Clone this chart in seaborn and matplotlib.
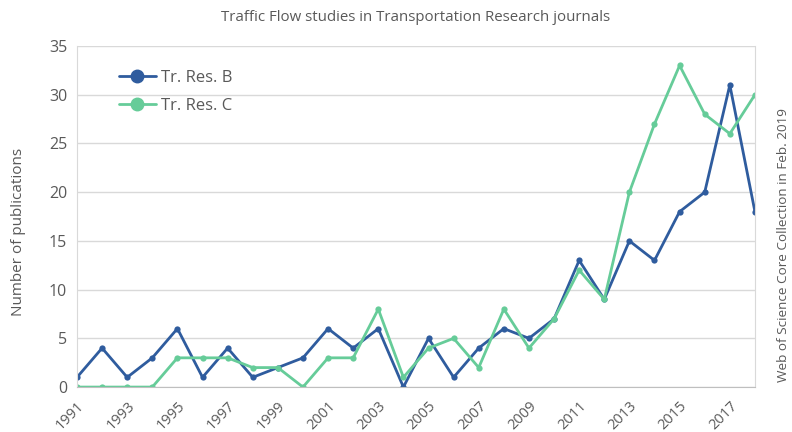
import pandas as pd
import numpy as np
import matplotlib
matplotlib.use("Agg")
import matplotlib.pyplot as plt
import seaborn as sns

# Publications per year
years = list(range(1991, 2019))
trResB = [1, 4, 1, 3, 6, 1, 4, 1, 2, 3, 6, 4, 6, 0, 5, 1, 4, 6, 5, 7,
          13, 9, 15, 13, 18, 20, 31, 18]
trResC = [0, 0, 0, 0, 3, 3, 3, 2, 2, 0, 3, 3, 8, 1, 4, 5, 2, 8, 4, 7,
          12, 9, 20, 27, 33, 28, 26, 30]
seriesNames = ['Tr. Res. B', 'Tr. Res. C']
seriesColors = ['#2F5C9E', '#66CC99']

sns.set_style("white")
plt.rcParams['font.family'] = ['Open Sans', 'DejaVu Sans']
textColor = '#595959'

df = pd.DataFrame({
    'Year': years * 2,
    'Count': trResB + trResC,
    'Journal': [seriesNames[0]] * len(years) + [seriesNames[1]] * len(years),
})

fig = plt.figure(figsize=(7.92, 4.32), dpi=100)
ax = fig.add_axes([0.0972, 0.104, 0.856, 0.7895])

sns.lineplot(data=df, x='Year', y='Count', hue='Journal', palette=seriesColors,
             marker='o', markersize=4.5, markeredgewidth=0, linewidth=2,
             ax=ax, legend=False)

ax.set_xlim(1991, 2018)
ax.set_ylim(0, 35)
ax.set_yticks(np.arange(0, 36, 5))
ax.set_xticks(years)
ax.set_xticklabels([str(y) if y % 2 == 1 else '' for y in years],
                   rotation=45, ha='right', rotation_mode='anchor')
ax.tick_params(axis='x', length=5, color='#BFBFBF', colors=textColor,
               labelsize=10.5, pad=3)
ax.tick_params(axis='y', length=5, color='#D9D9D9', colors=textColor,
               labelsize=11.5, pad=2)
ax.yaxis.grid(True, color='#D9D9D9', linewidth=1)
ax.set_axisbelow(True)
for side in ['left', 'right', 'top']:
    ax.spines[side].set_color('#D9D9D9')
ax.spines['top'].set_visible(False)
ax.spines['bottom'].set_color('#BFBFBF')

ax.set_xlabel('')
ax.set_ylabel('Number of publications', color=textColor, fontsize=11)
ax.yaxis.set_label_coords(-0.075, 0.455)
ax.set_title('Traffic Flow studies in Transportation Research journals',
             color=textColor, fontsize=10.8, pad=18)

handles = [plt.Line2D([], [], color=c, marker='o', markersize=9, linewidth=2)
           for c in seriesColors]
ax.legend(handles, seriesNames, loc='upper left', bbox_to_anchor=(0.04, 0.975),
          frameon=False, fontsize=12, labelcolor=textColor, handlelength=2.2,
          handletextpad=0.3, labelspacing=0.75)

fig.text(0.998, 0.433, 'Web of Science Core Collection in Feb. 2019',
         rotation=90, va='center', ha='right', color=textColor, fontsize=9.7)

fig.savefig('out.png', dpi=100)
